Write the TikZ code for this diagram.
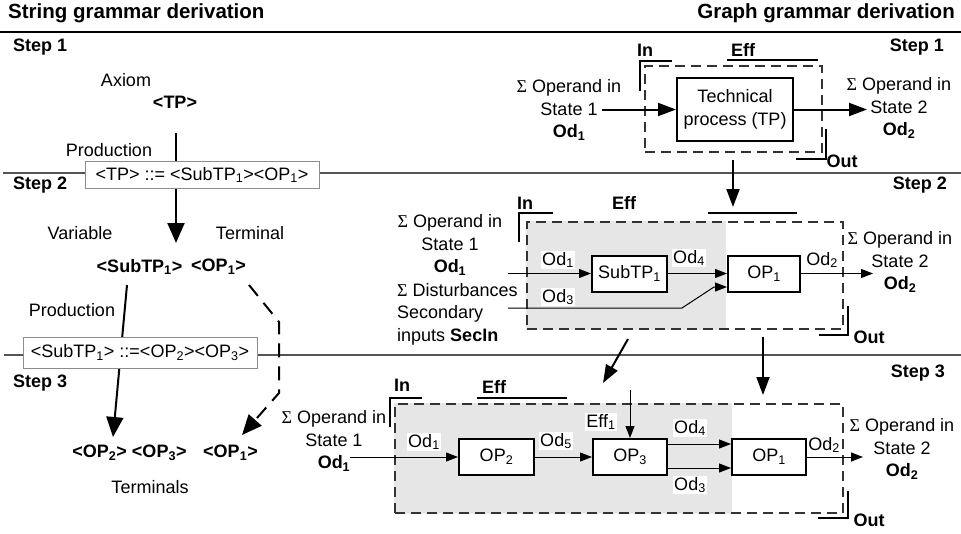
\documentclass[tikz,border=0pt]{standalone}
\usepackage{fontspec}
\setmainfont{Liberation Sans}
\newfontfamily\sigfont{Liberation Serif}
\usepackage{tikz}
\usetikzlibrary{positioning,arrows.meta,calc,backgrounds}
\definecolor{sysgray}{HTML}{E6E6E6}
\definecolor{rulegray}{HTML}{555555}
\newcommand{\bodyfont}{\fontsize{18}{22.5}\selectfont}
\newcommand{\ix}[1]{\textsubscript{#1}}
\newcommand{\opin}{{\sigfont Σ} Operand in}
\newcommand{\opdist}{{\sigfont Σ} Disturbances}

\begin{document}
\begin{tikzpicture}[x=1pt,y=-1pt,font=\bodyfont,
  txt/.style={inner sep=0pt,align=center,font=\bodyfont},
  btxt/.style={inner sep=0pt,align=center,font=\bodyfont\bfseries},
  hd/.style={inner sep=0pt,font=\fontsize{20.5}{24}\selectfont\bfseries},
  prod/.style={rectangle,draw=black!45,line width=1pt,fill=white,minimum width=234pt,minimum height=27pt,inner sep=2pt},
  proc/.style={rectangle,draw=black,line width=2pt,fill=white,minimum height=36pt,inner sep=2pt,align=center},
  sys/.style={rectangle,draw=black!80,line width=1.5pt,dash pattern=on 10pt off 6pt,inner sep=0pt},
  tag/.style={fill=white,inner sep=1pt},
  brk/.style={line width=2pt},
  ar/.style={-{Triangle[length=18pt,width=13pt]},line width=2pt},
  bar/.style={-{Triangle[length=20pt,width=17pt]},line width=2pt},
  sar/.style={-{Triangle[length=12pt,width=9pt]},line width=1pt},
  rule/.style={line width=1.5pt,rulegray}]
\useasboundingbox (0,0) rectangle (961,533);
% Headings and steps
\node[hd,anchor=west] (hstr) at (8,13) {String grammar derivation};
\node[hd,anchor=east] (hgra) at (955,13) {Graph grammar derivation};
\draw[line width=2.5pt] (0,32) -- (961,32);
\node[btxt,anchor=west] (s1l) at (13,47) {Step 1};
\node[btxt,anchor=east] (s1r) at (944,47) {Step 1};
\node[btxt,anchor=west] (s2l) at (13,185) {Step 2};
\node[btxt,anchor=east] (s2r) at (947,185) {Step 2};
\node[btxt,anchor=west] (s3l) at (13,383) {Step 3};
\node[btxt,anchor=east] (s3r) at (945,373) {Step 3};
% String grammar
\node[txt] (axiom) at (126,80) {Axiom};
\node[btxt] (tpax) at (175,102) {<TP>};
\node[txt] (pr1) at (109,150) {Production};
\node[prod] (prod1) at (202,175) {<TP> ::= <SubTP\ix{1}><OP\ix{1}>};
\node[txt] (var) at (80,233) {Variable};
\node[txt] (term) at (250,233) {Terminal};
\node[btxt] (subA) at (139.5,267) {<SubTP\ix{1}>};
\node[btxt] (opA) at (218.5,267) {<OP\ix{1}>};
\node[txt] (pr2) at (72,310) {Production};
\node[prod,minimum height=31pt] (prod2) at (140,352.5) {<SubTP\ix{1}> ::=<OP\ix{2}><OP\ix{3}>};
\node[btxt] (opsB) at (129.5,453) {<OP\ix{2}> <OP\ix{3}>};
\node[btxt] (opB) at (230.5,453) {<OP\ix{1}>};
\node[txt] (terms) at (150,487) {Terminals};
\coordinate (c1) at (176,133);
\coordinate (c2) at (176,243);
\coordinate (c3) at (127,285);
\coordinate (c4) at (113,437);
\coordinate (c5) at (249,285);
\coordinate (c6) at (242,435);
\draw[line width=2pt] (c1) -- (c1 |- prod1.north);
\draw[bar] (c2 |- prod1.south) -- (c2);
\draw[bar,dash pattern=on 14pt off 9pt] (c5) -- (279,322) -- (279,393) -- (c6);
% Graph grammar, step 1
\node[sys,minimum width=177pt,minimum height=86pt] (sys1) at (733.5,109) {};
\node[proc,minimum width=116pt,minimum height=63pt] (tp) at (735,109.5) {Technical\\process (TP)};
\node[txt] (in1) at (569,110) {\opin\\State 1\\\textbf{Od\ix{1}}};
\node[txt] (out1) at (899,108) {\opin\\State 2\\\textbf{Od\ix{2}}};
\coordinate (in1e) at (602,109.5);
\coordinate (out1w) at (867,109.5);
\draw[ar] (in1e) -- (tp.west);
\draw[ar] (tp.east) -- (out1w);
\draw[brk] ($(sys1.north west)+(28,-4)$) -| ($(sys1.north west)+(-4,26)$);
\draw[brk] ($(sys1.north west)+(83,-5)$) -- ($(sys1.north east)+(-5,-5)$);
\draw[brk] ($(sys1.south east)+(-27,6)$) -| ($(sys1.south east)+(3,-24)$);
\node[btxt] (in1l) at (645,50) {In};
\node[btxt] (eff1l) at (743,50) {Eff};
\node[btxt] (out1l) at (842,161) {Out};
\coordinate (d12a) at (733,160);
\coordinate (d12b) at (733,207);
\draw[ar] (d12a) -- (d12b);
% Graph grammar, step 2
\node[sys,minimum width=316pt,minimum height=107pt] (sys2) at (685,275.5) {};
\node[proc,minimum width=75pt] (sub1) at (629.5,273.5) {SubTP\ix{1}};
\node[proc,minimum width=72pt] (op1b) at (764,273.5) {OP\ix{1}};
\node[txt] (in2) at (450,245) {\opin\\State 1\\\textbf{Od\ix{1}}};
\node[txt,align=left,anchor=west] (dist2) at (397,314) {\opdist\\Secondary\\inputs \textbf{SecIn}};
\node[txt] (out2) at (900,262) {\opin\\State 2\\\textbf{Od\ix{2}}};
\coordinate (in2e) at (508,273.5);
\coordinate (dist2e) at (508,308);
\coordinate (out2w) at (873,273.5);
\draw[sar] (in2e) -- (sub1.west);
\draw[sar] (sub1.east) -- (op1b.west);
\draw[sar] (dist2e) -- (682,308) -- ($(op1b.west)+(-13,13.5)$) -- ($(op1b.west)+(0,13.5)$);
\draw[sar] (op1b.east) -- (out2w);
\node[tag] (t2a) at (558,260) {Od\ix{1}};
\node[tag] (t2b) at (558,297) {Od\ix{3}};
\node[tag] (t2c) at (689,258) {Od\ix{4}};
\node[tag] (t2d) at (822,260) {Od\ix{2}};
\draw[brk] ($(sys2.north west)+(27,-8)$) -| ($(sys2.north west)+(-7,21)$);
\draw[brk] ($(sys2.north west)+(182,-8)$) -- ($(sys2.north west)+(271,-8)$);
\draw[brk] ($(sys2.south east)+(-25,5)$) -| ($(sys2.south east)+(4,-24)$);
\node[btxt] (in2l) at (525,203) {In};
\node[btxt] (eff2l) at (624,203) {Eff};
\node[btxt] (out2l) at (869,337) {Out};
\coordinate (d23a) at (628,339);
\coordinate (d23b) at (603,383);
\coordinate (d23c) at (763,337);
\coordinate (d23d) at (763,395);
\draw[ar] (d23a) -- (d23b);
\draw[ar] (d23c) -- (d23d);
% Graph grammar, step 3
\node[sys,minimum width=448pt,minimum height=109pt] (sys3) at (619,458.5) {};
\node[proc,minimum width=75pt] (op2) at (496.5,457) {OP\ix{2}};
\node[proc,minimum width=74pt] (op3) at (630,457) {OP\ix{3}};
\node[proc,minimum width=74pt] (op1c) at (769,457) {OP\ix{1}};
\node[txt] (in3) at (334,441) {\opin\\State 1\\\textbf{Od\ix{1}}};
\node[txt] (out3) at (902,449) {\opin\\State 2\\\textbf{Od\ix{2}}};
\coordinate (in3e) at (350,457);
\coordinate (eff3) at (630,390);
\coordinate (out3w) at (863,457);
\draw[sar] (in3e) -- (op2.west);
\draw[sar] (op2.east) -- (op3.west);
\draw[sar] (eff3) -- (op3.north);
\draw[sar] ($(op3.east)+(0,-13)$) -- ($(op1c.west)+(0,-13)$);
\draw[sar] ($(op3.east)+(0,11)$) -- ($(op1c.west)+(0,11)$);
\draw[sar] (op1c.east) -- (out3w);
\node[tag] (t3a) at (424,442) {Od\ix{1}};
\node[tag] (t3b) at (556,441) {Od\ix{5}};
\node[tag] (t3c) at (601,422) {Eff\ix{1}};
\node[tag] (t3d) at (690,428) {Od\ix{4}};
\node[tag] (t3e) at (690,485) {Od\ix{3}};
\node[tag] (t3f) at (824,445) {Od\ix{2}};
\draw[brk] ($(sys3.north west)+(28,-5)$) -| ($(sys3.north west)+(-4,24)$);
\draw[brk] ($(sys3.north west)+(83,-5)$) -- ($(sys3.north west)+(173,-5)$);
\draw[brk] ($(sys3.south east)+(-26,4)$) -| ($(sys3.south east)+(4,-23)$);
\node[btxt] (in3l) at (402,385) {In};
\node[btxt] (eff3l) at (494,387) {Eff};
\node[btxt] (out3l) at (869,520) {Out};
% Background: rules, shaded regions, productions behind boxes
\begin{scope}[on background layer]
\fill[sysgray] (sys2.north west) rectangle ($(sys2.south west)+(200,0)$);
\fill[sysgray] (sys3.north west) rectangle ($(sys3.south west)+(338,0)$);
\draw[rule] (3,173) -- (961,173);
\draw[rule] (4,355) -- (961,355);
\draw[bar] (c3) -- (c4);
\end{scope}
\end{tikzpicture}
\end{document}
